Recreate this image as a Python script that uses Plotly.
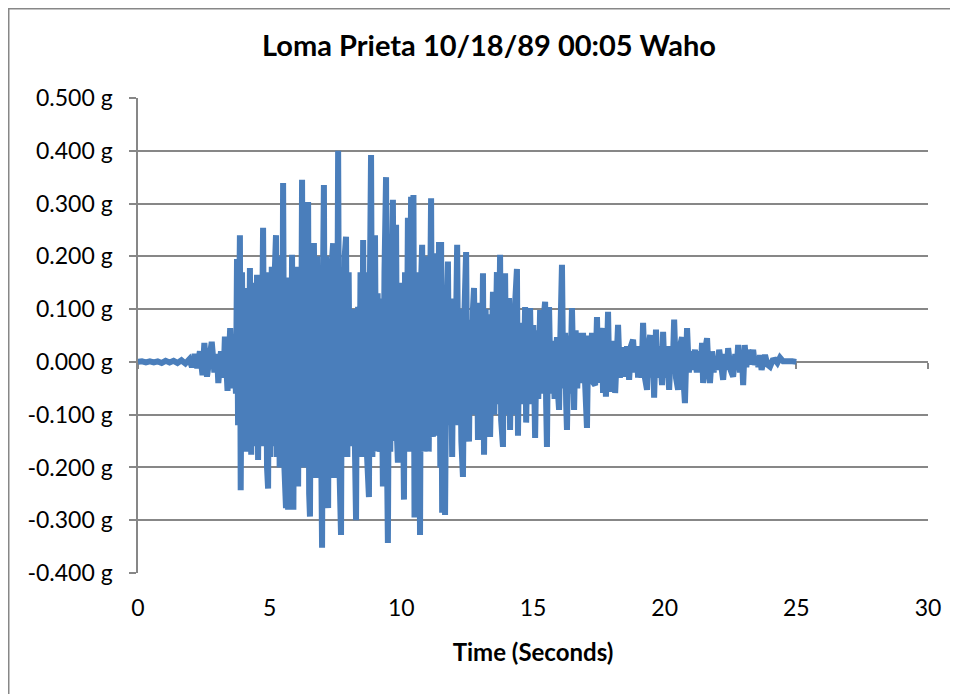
import plotly.graph_objects as go

# Time (s) and acceleration (g)
time_s = [
    0.00, 0.15, 0.30, 0.45, 0.60, 0.75, 0.90, 1.05, 1.20, 1.35, 1.50, 1.65, 1.80, 1.95,
    2.05, 2.15, 2.25, 2.35, 2.45, 2.52, 2.62, 2.72, 2.80, 2.90, 3.00, 3.05, 3.15, 3.25,
    3.30, 3.40, 3.50, 3.58, 3.65, 3.72, 3.76, 3.80, 3.84, 3.87, 3.90, 3.95, 4.00, 4.05,
    4.10, 4.15, 4.20, 4.25, 4.30, 4.36, 4.42, 4.47, 4.52, 4.56, 4.62, 4.67, 4.72, 4.75,
    4.80, 4.85, 4.90, 4.94, 4.98, 5.03, 5.08, 5.13, 5.18, 5.24, 5.28, 5.33, 5.38, 5.43,
    5.47, 5.51, 5.56, 5.62, 5.66, 5.70, 5.75, 5.80, 5.85, 5.90, 5.95, 6.00, 6.04, 6.08,
    6.13, 6.18, 6.23, 6.27, 6.31, 6.36, 6.41, 6.46, 6.50, 6.53, 6.58, 6.63, 6.68, 6.72,
    6.76, 6.80, 6.85, 6.90, 6.95, 6.99, 7.03, 7.06, 7.10, 7.14, 7.18, 7.22, 7.26, 7.30,
    7.35, 7.41, 7.45, 7.50, 7.55, 7.60, 7.65, 7.71, 7.75, 7.80, 7.85, 7.90, 7.95, 8.00,
    8.05, 8.10, 8.15, 8.20, 8.24, 8.28, 8.32, 8.36, 8.40, 8.45, 8.50, 8.55, 8.60, 8.65,
    8.70, 8.77, 8.81, 8.85, 8.90, 8.95, 9.00, 9.05, 9.10, 9.15, 9.19, 9.23, 9.27, 9.30,
    9.36, 9.42, 9.46, 9.49, 9.54, 9.58, 9.63, 9.68, 9.72, 9.76, 9.80, 9.84, 9.87, 9.92,
    9.97, 10.02, 10.06, 10.10, 10.14, 10.19, 10.25, 10.30, 10.37, 10.42, 10.46, 10.50,
    10.55, 10.60, 10.65, 10.71, 10.75, 10.79, 10.84, 10.89, 10.94, 10.99, 11.04, 11.10,
    11.13, 11.17, 11.20, 11.25, 11.30, 11.35, 11.40, 11.43, 11.48, 11.51, 11.55, 11.60,
    11.66, 11.72, 11.77, 11.82, 11.87, 11.93, 11.98, 12.03, 12.08, 12.12, 12.17, 12.22,
    12.28, 12.34, 12.40, 12.46, 12.51, 12.57, 12.62, 12.68, 12.72, 12.76, 12.82, 12.87,
    12.91, 12.95, 12.99, 13.04, 13.10, 13.14, 13.20, 13.25, 13.31, 13.37, 13.42, 13.48,
    13.53, 13.58, 13.63, 13.68, 13.75, 13.79, 13.86, 13.90, 13.94, 13.99, 14.04, 14.09,
    14.13, 14.19, 14.25, 14.31, 14.39, 14.43, 14.48, 14.53, 14.58, 14.63, 14.70, 14.74,
    14.80, 14.84, 14.89, 14.95, 15.01, 15.08, 15.14, 15.20, 15.27, 15.33, 15.40, 15.46,
    15.50, 15.53, 15.57, 15.61, 15.67, 15.72, 15.76, 15.82, 15.91, 15.95, 15.99, 16.04,
    16.10, 16.15, 16.22, 16.26, 16.29, 16.35, 16.41, 16.48, 16.52, 16.56, 16.62, 16.68,
    16.75, 16.80, 16.90, 16.96, 17.05, 17.10, 17.17, 17.24, 17.30, 17.36, 17.43, 17.48,
    17.55, 17.62, 17.66, 17.72, 17.77, 17.85, 17.90, 17.96, 18.00, 18.06, 18.12, 18.23,
    18.30, 18.38, 18.44, 18.50, 18.57, 18.65, 18.72, 18.80, 18.88, 18.94, 18.99, 19.05,
    19.12, 19.18, 19.25, 19.33, 19.39, 19.45, 19.50, 19.55, 19.60, 19.67, 19.74, 19.81,
    19.90, 19.94, 20.00, 20.07, 20.17, 20.24, 20.30, 20.36, 20.43, 20.51, 20.58, 20.66,
    20.71, 20.77, 20.85, 20.92, 20.98, 21.04, 21.15, 21.22, 21.30, 21.36, 21.42, 21.46,
    21.53, 21.61, 21.67, 21.72, 21.80, 21.86, 21.91, 21.99, 22.07, 22.15, 22.22, 22.30,
    22.36, 22.41, 22.50, 22.60, 22.68, 22.74, 22.79, 22.86, 22.93, 22.98, 23.04, 23.10,
    23.17, 23.25, 23.36, 23.42, 23.50, 23.56, 23.62, 23.68, 23.75, 23.81, 23.90, 24.00,
    24.10, 24.19, 24.28, 24.38, 24.50, 24.65, 24.85, 25.00,
]

accel_g = [
    0.000, 0.001, -0.001, 0.001, -0.001, 0.001, -0.002, 0.002, -0.001, 0.002, -0.002, 0.003, -0.003, 0.005,
    -0.010, 0.015, -0.012, 0.020, -0.025, 0.036, -0.028, 0.025, 0.038, -0.020, 0.015, -0.040, 0.020, -0.030,
    0.048, -0.055, 0.064, -0.050, 0.040, -0.060, 0.195, -0.120, 0.120, 0.240, -0.243, 0.170, -0.170, 0.120,
    -0.170, 0.140, -0.160, 0.178, -0.176, 0.150, -0.160, 0.140, 0.165, -0.186, 0.130, -0.160, 0.170, 0.254,
    -0.150, 0.170, -0.200, -0.240, 0.150, -0.180, 0.180, -0.160, 0.150, 0.240, -0.180, 0.160, -0.200, 0.200,
    -0.150, 0.339, -0.200, -0.277, 0.160, -0.280, 0.150, -0.250, 0.203, -0.280, 0.180, -0.200, 0.160, -0.236,
    0.180, -0.180, 0.345, -0.200, 0.250, -0.180, 0.200, 0.303, -0.250, -0.293, 0.180, -0.150, 0.225, -0.180,
    -0.220, 0.200, -0.180, 0.160, -0.200, -0.352, 0.180, 0.335, -0.200, 0.200, -0.180, -0.277, 0.180, -0.150,
    0.180, 0.225, -0.220, 0.180, -0.180, 0.400, -0.200, -0.328, 0.180, -0.180, 0.200, 0.237, -0.180, 0.170,
    -0.160, 0.093, -0.129, 0.100, -0.170, -0.300, 0.080, 0.104, -0.170, 0.170, -0.180, 0.231, -0.180, 0.170,
    -0.180, -0.256, 0.170, 0.392, -0.180, 0.170, 0.240, -0.170, 0.130, -0.150, -0.170, 0.120, -0.150, -0.236,
    0.170, 0.350, -0.200, -0.343, 0.150, -0.170, 0.170, 0.307, -0.150, 0.170, 0.260, -0.150, -0.191, 0.130,
    -0.170, 0.150, -0.200, -0.261, 0.170, -0.170, 0.273, -0.170, 0.313, -0.170, 0.316, -0.295,
    0.170, -0.200, 0.150, -0.328, 0.150, 0.222, -0.170, 0.170, -0.150, 0.200, -0.170, 0.170,
    0.310, -0.130, -0.142, 0.150, -0.130, 0.206, -0.140, 0.227, -0.200, 0.227, -0.286, 0.140,
    -0.290, 0.100, 0.190, -0.120, 0.120, -0.180, 0.100, -0.100, 0.150, 0.222, -0.120, 0.100,
    -0.150, -0.218, 0.100, 0.208, -0.100, -0.151, 0.080, -0.100, 0.100, 0.140, -0.100, 0.080,
    -0.148, 0.080, 0.112, -0.100, 0.168, -0.176, 0.100, -0.080, 0.090, -0.142, 0.080, 0.133,
    -0.100, 0.100, 0.170, -0.080, 0.203, -0.110, -0.161, 0.100, 0.168, -0.100, 0.080, 0.121,
    -0.129, 0.080, -0.100, 0.100, 0.176, -0.140, 0.060, -0.080, 0.074, -0.080, 0.104, -0.115,
    0.060, -0.080, 0.102, -0.080, 0.070, -0.144, 0.060, -0.070, 0.098, -0.060, 0.080, 0.114,
    -0.080, -0.161, 0.060, 0.104, -0.060, 0.040, 0.019, -0.070, 0.047, -0.060, -0.091, 0.050,
    0.184, -0.050, 0.055, -0.080, -0.129, 0.050, -0.060, 0.102, -0.050, -0.091, 0.060, -0.050,
    0.055, -0.040, 0.055, -0.050, -0.125, 0.050, -0.040, 0.055, -0.040, -0.044, 0.085, -0.040,
    0.050, 0.064, -0.059, 0.040, -0.066, 0.095, -0.040, 0.040, -0.057, 0.040, -0.059, 0.070,
    -0.030, 0.028, -0.020, -0.028, 0.030, -0.034, 0.030, 0.042, -0.020, 0.030, -0.030, 0.030,
    -0.030, 0.074, -0.030, -0.053, 0.030, 0.051, -0.030, 0.030, -0.068, 0.061, -0.030, 0.030,
    -0.044, 0.057, -0.030, 0.030, -0.053, 0.030, -0.020, 0.080, -0.030, -0.053, 0.030, 0.047,
    -0.030, -0.078, 0.064, -0.020, 0.020, -0.015, 0.023, -0.020, 0.020, -0.020, 0.036, -0.040,
    0.020, 0.045, -0.020, -0.040, 0.020, -0.020, 0.004, -0.015, 0.023, -0.020, -0.034, 0.015,
    -0.015, 0.026, -0.015, -0.028, 0.015, -0.010, 0.032, -0.020, 0.020, -0.044, 0.032, -0.010,
    0.023, -0.005, 0.023, -0.006, 0.010, -0.010, 0.013, -0.015, 0.005, 0.013, -0.005, -0.009,
    0.003, 0.004, -0.002, 0.008, 0.001, 0.002, 0.001, 0.000,
]

x_ticks = [0, 5, 10, 15, 20, 25, 30]
y_ticks = [-0.4, -0.3, -0.2, -0.1, 0.0, 0.1, 0.2, 0.3, 0.4, 0.5]
y_tick_text = ["%.3f g" % v for v in y_ticks]

FONT = "Lato, Calibri, Carlito, sans-serif"
GRID = "#878787"
BLUE = "#4a7ebb"

W, H = 950, 686
L, R, T, B = 130, 30, 90, 121
PW, PH = W - L - R, H - T - B

fig = go.Figure()
fig.add_trace(go.Scatter(
    x=time_s, y=accel_g, mode="lines",
    line=dict(color=BLUE, width=6, shape="linear"),
    showlegend=False, hoverinfo="x+y",
))
# empty trace to create the axis that crosses at y = 0
fig.add_trace(go.Scatter(x=[], y=[], xaxis="x2", yaxis="y", showlegend=False))

fig.update_layout(
    width=W, height=H,
    paper_bgcolor="white", plot_bgcolor="white",
    margin=dict(l=L, r=R, t=T, b=B),
    font=dict(family=FONT, color="black", size=23),
    title=dict(text="<b>Loma Prieta 10/18/89 00:05 Waho</b>",
               x=481 / W, xref="container", xanchor="center",
               y=1 - 38 / H, yref="container", yanchor="middle",
               font=dict(family=FONT, size=29, color="black")),
    xaxis=dict(range=[0, 30], tickvals=x_ticks, ticktext=[str(v) for v in x_ticks],
               showgrid=False, zeroline=False, showline=False, ticks="",
               ticklabelstandoff=19,
               tickfont=dict(family=FONT, size=23),
               title=dict(text="<b>Time (Seconds)</b>", standoff=24,
                          font=dict(family=FONT, size=24))),
    xaxis2=dict(range=[0, 30], overlaying="x", anchor="free", position=0.4 / 0.9,
                tickvals=x_ticks, showticklabels=False, showgrid=False, zeroline=False,
                showline=True, linecolor=GRID, linewidth=1.5,
                ticks="outside", ticklen=6, tickwidth=1.5, tickcolor=GRID,
                layer="below traces"),
    yaxis=dict(range=[-0.4, 0.5], tickvals=y_ticks, ticktext=y_tick_text,
               showgrid=True, gridcolor=GRID, gridwidth=1.5, zeroline=False,
               showline=True, linecolor=GRID, linewidth=1.5,
               ticks="outside", ticklen=7, tickwidth=1.5, tickcolor=GRID,
               ticklabelstandoff=12,
               tickfont=dict(family=FONT, size=23)),
    shapes=[dict(type="rect", xref="paper", yref="paper",
                 x0=(0.75 - L) / PW, x1=(947 - L) / PW,
                 y0=(T + PH - (H + 20)) / PH, y1=(T + PH - 0.75) / PH,
                 line=dict(color=GRID, width=1.5), fillcolor="rgba(0,0,0,0)",
                 layer="below")],
)

fig.write_html("out.html")
